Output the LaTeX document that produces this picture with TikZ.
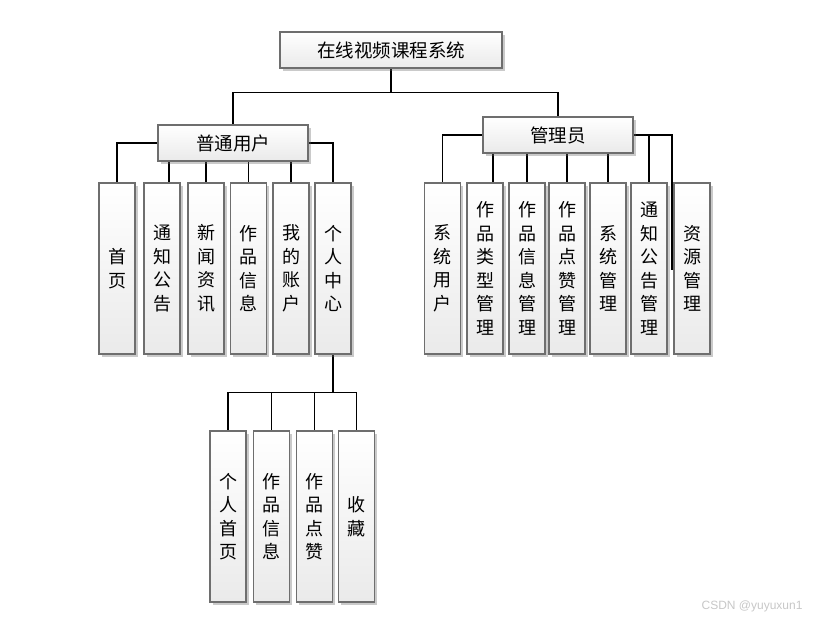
\documentclass[tikz,border=0pt]{standalone}
\usepackage{fontspec}
\setmainfont{Liberation Sans}
\newfontfamily\cjk{Noto Sans CJK SC}
\usetikzlibrary{shadows,backgrounds}
\definecolor{boxline}{HTML}{6E6E6E}
\definecolor{boxbot}{HTML}{EAEAEA}
\tikzset{
  boxbase/.style={draw=boxline, line width=1.3pt, top color=white, bottom color=boxbot,
    drop shadow={shadow xshift=2.5pt, shadow yshift=-2.5pt, opacity=0.35, fill=black!60},
    inner sep=0pt, text=black},
  hbox/.style={boxbase, font=\cjk\fontsize{18.5}{20}\selectfont},
  vbox/.style={boxbase, minimum width=36pt, minimum height=171pt, align=center,
    font=\cjk\fontsize{18}{23.5}\selectfont},
  conn/.style={line width=1.1pt, draw=black}
}
\begin{document}
\begin{tikzpicture}[x=1pt,y=-1pt]
\useasboundingbox (0,0) rectangle (820,621);
% top
\node[hbox, minimum width=222pt, minimum height=36pt] (T) at (391,50) {在线视频课程系统};
\node[hbox, minimum width=150pt, minimum height=36pt] (U) at (233,143) {普通用户};
\node[hbox, minimum width=150pt, minimum height=36pt] (A) at (558,135) {管理员};
% user children
\node[vbox] (c1) at (117,268.5) {首\\页};
\node[vbox] (c2) at (162,268.5) {通\\知\\公\\告};
\node[vbox] (c3) at (206,268.5) {新\\闻\\资\\讯};
\node[vbox] (c4) at (248.5,268.5) {作\\品\\信\\息};
\node[vbox] (c5) at (291,268.5) {我\\的\\账\\户};
\node[vbox] (c6) at (333,268.5) {个\\人\\中\\心};
% admin children
\node[vbox] (a1) at (442.5,268.5) {系\\统\\用\\户};
\node[vbox] (a2) at (485,268.5) {作\\品\\类\\型\\管\\理};
\node[vbox] (a3) at (527,268.5) {作\\品\\信\\息\\管\\理};
\node[vbox] (a4) at (567,268.5) {作\\品\\点\\赞\\管\\理};
\node[vbox] (a5) at (608,268.5) {系\\统\\管\\理};
\node[vbox] (a6) at (649,268.5) {通\\知\\公\\告\\管\\理};
\node[vbox] (a7) at (692,268.5) {资\\源\\管\\理};
% personal center children
\node[vbox] (d1) at (228,516.5) {个\\人\\首\\页};
\node[vbox] (d2) at (271.5,516.5) {作\\品\\信\\息};
\node[vbox] (d3) at (314.5,516.5) {作\\品\\点\\赞};
\node[vbox] (d4) at (356.5,516.5) {收\\藏};
% connectors
\begin{scope}[on background layer]
\draw[conn] (T.south) -- ++(0,24) -| (U.north);
\draw[conn] (T.south) -- ++(0,24) -| (A.north);
\draw[conn] (U.west) -| (c1.north);
\draw[conn] ([xshift=7pt]c2.north) -- ([xshift=7pt]c2.north |- U.south);
\draw[conn] (c3.north) -- (c3.north |- U.south);
\draw[conn] (c4.north) -- (c4.north |- U.south);
\draw[conn] (c5.north) -- (c5.north |- U.south);
\draw[conn] (U.east) -| (c6.north);
\draw[conn] (A.west) -| (a1.north);
\draw[conn] ([xshift=8pt]a2.north) -- ([xshift=8pt]a2.north |- A.south);
\draw[conn] (a3.north) -- (a3.north |- A.south);
\draw[conn] (a4.north) -- (a4.north |- A.south);
\draw[conn] (a5.north) -- (a5.north |- A.south);
\draw[conn] (A.east) -| (a6.north);
\coordinate (e7) at (672,270);
\draw[conn] (A.east) -| (e7);
\draw[conn] (c6.south) -- ++(0,38) -| (d1.north);
\draw[conn] (c6.south) -- ++(0,38) -| (d2.north);
\draw[conn] (c6.south) -- ++(0,38) -| (d3.north);
\draw[conn] (c6.south) -- ++(0,38) -| (d4.north);
\end{scope}
% watermark
\node[anchor=east, text=black!22, font=\fontsize{12}{14}\selectfont] (wm) at (806,606) {CSDN @yuyuxun1};
\end{tikzpicture}
\end{document}
